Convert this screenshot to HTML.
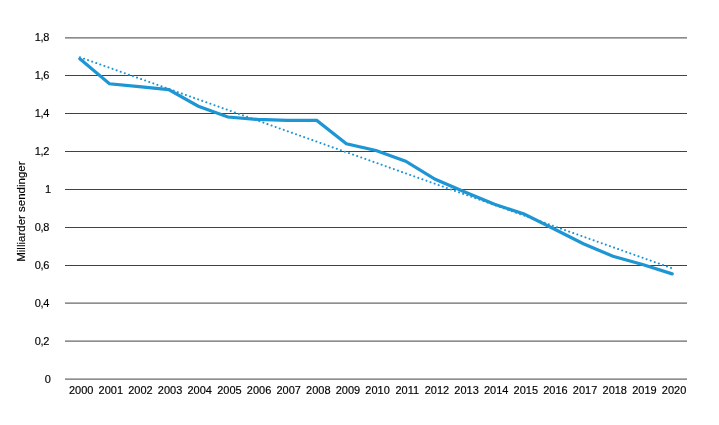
<!DOCTYPE html>
<html lang="nb"><head><meta charset="utf-8"><title>Milliarder sendinger 2000–2020</title>
<style>html,body{margin:0;padding:0;background:#fff}svg{display:block}text{font-family:"Liberation Sans",Arial,sans-serif;fill:#000;stroke:#000;stroke-width:0.15px}</style></head><body>
<svg width="719" height="425" viewBox="0 0 719 425">
<rect width="719" height="425" fill="#fff"/>
<g stroke="#111" stroke-width="0.8">
<line x1="65" y1="37.90" x2="687" y2="37.90"/>
<line x1="65" y1="75.50" x2="687" y2="75.50"/>
<line x1="65" y1="113.50" x2="687" y2="113.50"/>
<line x1="65" y1="151.50" x2="687" y2="151.50"/>
<line x1="65" y1="189.50" x2="687" y2="189.50"/>
<line x1="65" y1="227.50" x2="687" y2="227.50"/>
<line x1="65" y1="265.50" x2="687" y2="265.50"/>
<line x1="65" y1="303.10" x2="687" y2="303.10"/>
<line x1="65" y1="341.10" x2="687" y2="341.10"/>
<line x1="65" y1="379.10" x2="687" y2="379.10"/>
</g>
<g font-size="11" text-anchor="end">
<text x="48.9" y="40.50" letter-spacing="-0.4">1,8</text>
<text x="48.9" y="79.14" letter-spacing="-0.4">1,6</text>
<text x="48.9" y="117.09" letter-spacing="-0.4">1,4</text>
<text x="48.9" y="155.03" letter-spacing="-0.4">1,2</text>
<text x="51.0" y="192.98">1</text>
<text x="48.9" y="230.92" letter-spacing="-0.4">0,8</text>
<text x="48.9" y="268.87" letter-spacing="-0.4">0,6</text>
<text x="48.9" y="306.81" letter-spacing="-0.4">0,4</text>
<text x="48.9" y="344.76" letter-spacing="-0.4">0,2</text>
<text x="50.9" y="382.70">0</text>
</g>
<g font-size="11" text-anchor="middle">
<text transform="translate(81.16 394.15) scale(1 1.045)">2000</text>
<text transform="translate(110.80 394.15) scale(1 1.045)">2001</text>
<text transform="translate(140.45 394.15) scale(1 1.045)">2002</text>
<text transform="translate(170.09 394.15) scale(1 1.045)">2003</text>
<text transform="translate(199.74 394.15) scale(1 1.045)">2004</text>
<text transform="translate(229.38 394.15) scale(1 1.045)">2005</text>
<text transform="translate(259.02 394.15) scale(1 1.045)">2006</text>
<text transform="translate(288.67 394.15) scale(1 1.045)">2007</text>
<text transform="translate(318.31 394.15) scale(1 1.045)">2008</text>
<text transform="translate(347.96 394.15) scale(1 1.045)">2009</text>
<text transform="translate(377.60 394.15) scale(1 1.045)">2010</text>
<text transform="translate(407.24 394.15) scale(1 1.045)">2011</text>
<text transform="translate(436.89 394.15) scale(1 1.045)">2012</text>
<text transform="translate(466.53 394.15) scale(1 1.045)">2013</text>
<text transform="translate(496.18 394.15) scale(1 1.045)">2014</text>
<text transform="translate(525.82 394.15) scale(1 1.045)">2015</text>
<text transform="translate(555.46 394.15) scale(1 1.045)">2016</text>
<text transform="translate(585.11 394.15) scale(1 1.045)">2017</text>
<text transform="translate(614.75 394.15) scale(1 1.045)">2018</text>
<text transform="translate(644.40 394.15) scale(1 1.045)">2019</text>
<text transform="translate(674.04 394.15) scale(1 1.045)">2020</text>
</g>
<text font-size="11.5" text-anchor="middle" transform="translate(25.2 211.6) rotate(-90)">Milliarder sendinger</text>
<line x1="79.91" y1="57.25" x2="673.19" y2="268.68" stroke="#1e96d4" stroke-width="2.05" stroke-linecap="round" stroke-dasharray="0.01 4.318"/>
<polyline points="79.81,58.75 109.43,83.75 139.05,86.70 168.67,89.55 198.29,106.25 227.90,117.00 257.52,119.45 287.14,120.30 316.76,120.45 346.38,143.75 376.00,150.50 405.62,161.25 435.24,179.25 464.86,192.00 494.48,204.25 524.10,214.00 553.71,228.75 583.33,243.75 612.95,256.25 642.57,264.50 672.19,273.90" fill="none" stroke="#1e96d4" stroke-width="3.2" stroke-linejoin="miter" stroke-linecap="round"/>
</svg></body></html>
